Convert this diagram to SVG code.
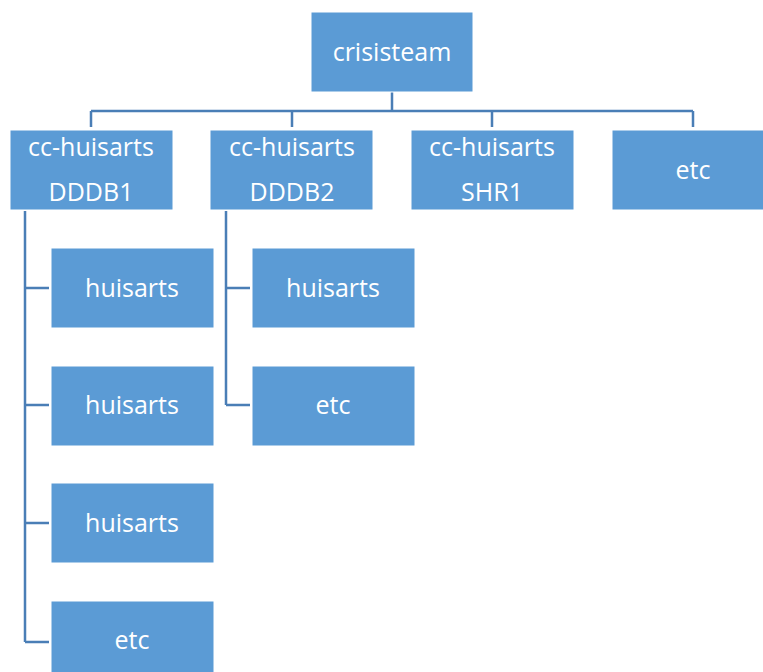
<svg xmlns="http://www.w3.org/2000/svg" width="763" height="672" viewBox="0 0 763 672">
<style>
.box{fill:#5B9BD5;stroke:#FFFFFF;stroke-width:1}
.lbl{font-family:"Open Sans","Liberation Sans",sans-serif;font-size:25px;fill:#FFFFFF;text-anchor:middle}
.conn{fill:none;stroke:#4A7EB6;stroke-width:2.5}
</style>
<rect width="763" height="672" fill="#FFFFFF"/>
<g id="connectors">
<path class="conn" d="M392 92V111M91 111H693M91 111V127M292 111V127M492 111V127M693 111V127"/>
<path class="conn" d="M25 211V642M25 288H49M25 405H49M25 523H49M25 642H49"/>
<path class="conn" d="M226 211V405M226 288H250M226 405H250"/>
</g>
<g id="crisisteam"><rect class="box" x="311" y="12" width="162" height="80"/><text class="lbl" x="392" y="61">crisisteam</text></g>
<g id="ccDDDB1"><rect class="box" x="10" y="130" width="163" height="80"/><text class="lbl" x="91" y="156">cc-huisarts</text><text class="lbl" x="91" y="201">DDDB1</text></g>
<g id="ccDDDB2"><rect class="box" x="210" y="130" width="163" height="80"/><text class="lbl" x="292" y="156">cc-huisarts</text><text class="lbl" x="292" y="201">DDDB2</text></g>
<g id="ccSHR1"><rect class="box" x="411" y="130" width="163" height="80"/><text class="lbl" x="492" y="156">cc-huisarts</text><text class="lbl" x="492" y="201">SHR1</text></g>
<g id="etcTop"><rect class="box" x="612" y="130" width="163" height="80"/><text class="lbl" x="693" y="179">etc</text></g>
<g id="h1a"><rect class="box" x="51" y="248" width="163" height="80"/><text class="lbl" x="132" y="297">huisarts</text></g>
<g id="h1b"><rect class="box" x="51" y="366" width="163" height="80"/><text class="lbl" x="132" y="414">huisarts</text></g>
<g id="h1c"><rect class="box" x="51" y="483" width="163" height="80"/><text class="lbl" x="132" y="532">huisarts</text></g>
<g id="etc1"><rect class="box" x="51" y="601" width="163" height="80"/><text class="lbl" x="132" y="649">etc</text></g>
<g id="h2a"><rect class="box" x="252" y="248" width="163" height="80"/><text class="lbl" x="333" y="297">huisarts</text></g>
<g id="etc2"><rect class="box" x="252" y="366" width="163" height="80"/><text class="lbl" x="333" y="414">etc</text></g>
</svg>
